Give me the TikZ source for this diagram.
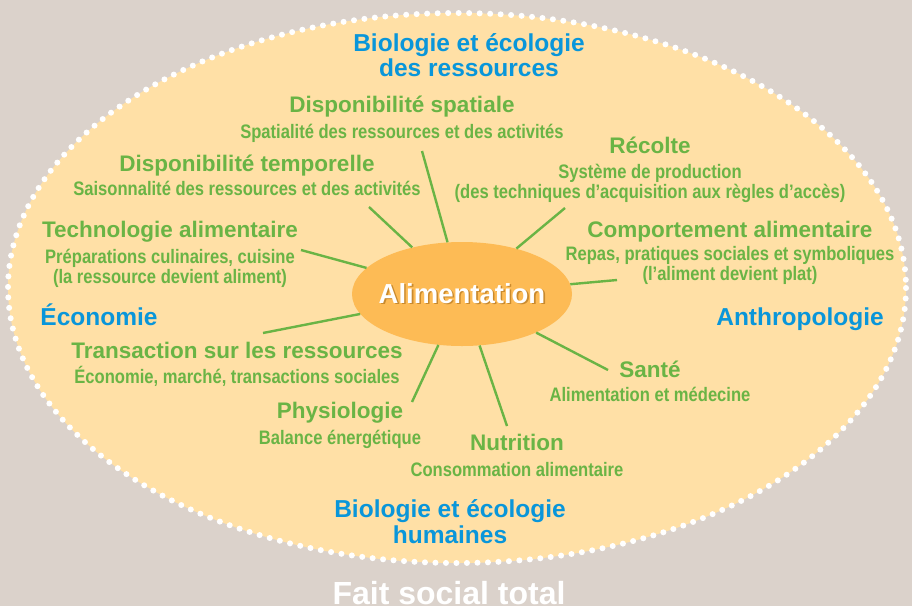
\documentclass[tikz,border=0pt]{standalone}
\usepackage{fontspec}
\setmainfont{Liberation Sans}
\newfontfamily\narrowfont[FakeStretch=0.85]{Liberation Sans}
\usepackage{tikz}
\usetikzlibrary{shapes.geometric}

\definecolor{bgtaupe}{HTML}{DBD2CB}
\definecolor{fieldsand}{HTML}{FFE0A6}
\definecolor{leafgreen}{HTML}{6AB445}
\definecolor{skyblue}{HTML}{0996DA}
\definecolor{coreorange}{HTML}{FDBB55}
\definecolor{coreshadow}{HTML}{C98A2E}

\newcommand{\shadowed}[1]{\makebox[0pt]{\makebox[0pt][l]{\hspace{1.6pt}\raisebox{-1.6pt}{\color{coreshadow}#1}}\color{white}#1}}

\begin{document}
\begin{tikzpicture}[x=1pt, y=-1pt,
    topic/.style={text=leafgreen, font=\fontsize{22.5}{24}\selectfont\bfseries, anchor=base, inner sep=0pt},
    detail/.style={text=leafgreen, font=\narrowfont\fontsize{19.5}{20}\selectfont\bfseries, align=center, anchor=base, inner sep=0pt},
    field/.style={text=skyblue, font=\fontsize{24.5}{25}\selectfont\bfseries, align=center, anchor=base, inner sep=0pt},
    spoke/.style={leafgreen, line width=2.4pt}]
    % Background and outer field
    \fill[bgtaupe] (0,0) rectangle (912,606);
    \useasboundingbox (0,0) rectangle (912,606);
    \fill[fieldsand] (457,288) ellipse [x radius=449, y radius=275];
    \draw[white, line width=6pt, line cap=round, dash pattern=on 0pt off 10.5pt] (457,288) ellipse [x radius=449, y radius=275];

    % Core node
    \node[ellipse, fill=coreorange, minimum width=220pt, minimum height=104pt, inner sep=0pt, font=\fontsize{27.5}{28}\selectfont\bfseries] (alim) at (462,294) {\raisebox{1pt}{\shadowed{Alimentation}}};

    % Spoke ends
    \coordinate (spatialend) at (422,151);
    \coordinate (recolteend) at (565,208);
    \coordinate (temporelend) at (369,207);
    \coordinate (comportend) at (617,280);
    \coordinate (technoend) at (301,250);
    \coordinate (transacend) at (263,333);
    \coordinate (santeend) at (608,370);
    \coordinate (physioend) at (412,402);
    \coordinate (nutriend) at (507,426);
    \foreach \e in {spatialend,recolteend,temporelend,comportend,technoend,transacend,santeend,physioend,nutriend}
        \draw[spoke] (alim) -- (\e);

    % Disciplines (multi-line texts sit on their last baseline)
    \node[field] (biores) at (469,76) {Biologie et écologie\\des ressources};
    \node[field] (econ) at (99,325) {Économie};
    \node[field] (anthro) at (800,325) {Anthropologie};
    \node[field, font=\fontsize{24.5}{26}\selectfont\bfseries] (biohum) at (450,543) {Biologie et écologie\\humaines};

    % Topics round the core
    \node[topic] (spatial) at (402,112) {Disponibilité spatiale};
    \node[detail] (spatialsub) at (402,138) {Spatialité des ressources et des activités};
    \node[topic] (recolte) at (650,153) {Récolte};
    \node[detail] (recoltesub) at (650,198) {Système de production\\(des techniques d’acquisition aux règles d’accès)};
    \node[topic] (temporel) at (247,171) {Disponibilité temporelle};
    \node[detail] (temporelsub) at (247,195) {Saisonnalité des ressources et des activités};
    \node[topic] (comport) at (730,237) {Comportement alimentaire};
    \node[detail] (comportsub) at (730,280) {Repas, pratiques sociales et symboliques\\(l’aliment devient plat)};
    \node[topic] (techno) at (170,237) {Technologie alimentaire};
    \node[detail] (technosub) at (170,283) {Préparations culinaires, cuisine\\(la ressource devient aliment)};
    \node[topic] (transac) at (237,358) {Transaction sur les ressources};
    \node[detail] (transacsub) at (237,383) {Économie, marché, transactions sociales};
    \node[topic] (sante) at (650,377) {Santé};
    \node[detail] (santesub) at (650,401) {Alimentation et médecine};
    \node[topic] (physio) at (340,418) {Physiologie};
    \node[detail] (physiosub) at (340,444) {Balance énergétique};
    \node[topic] (nutri) at (517,450) {Nutrition};
    \node[detail] (nutrisub) at (517,476) {Consommation alimentaire};

    % Footer
    \node[anchor=base, text=white, font=\fontsize{32}{34}\selectfont\bfseries, inner sep=0pt] (total) at (449,604) {Fait social total};
\end{tikzpicture}
\end{document}
